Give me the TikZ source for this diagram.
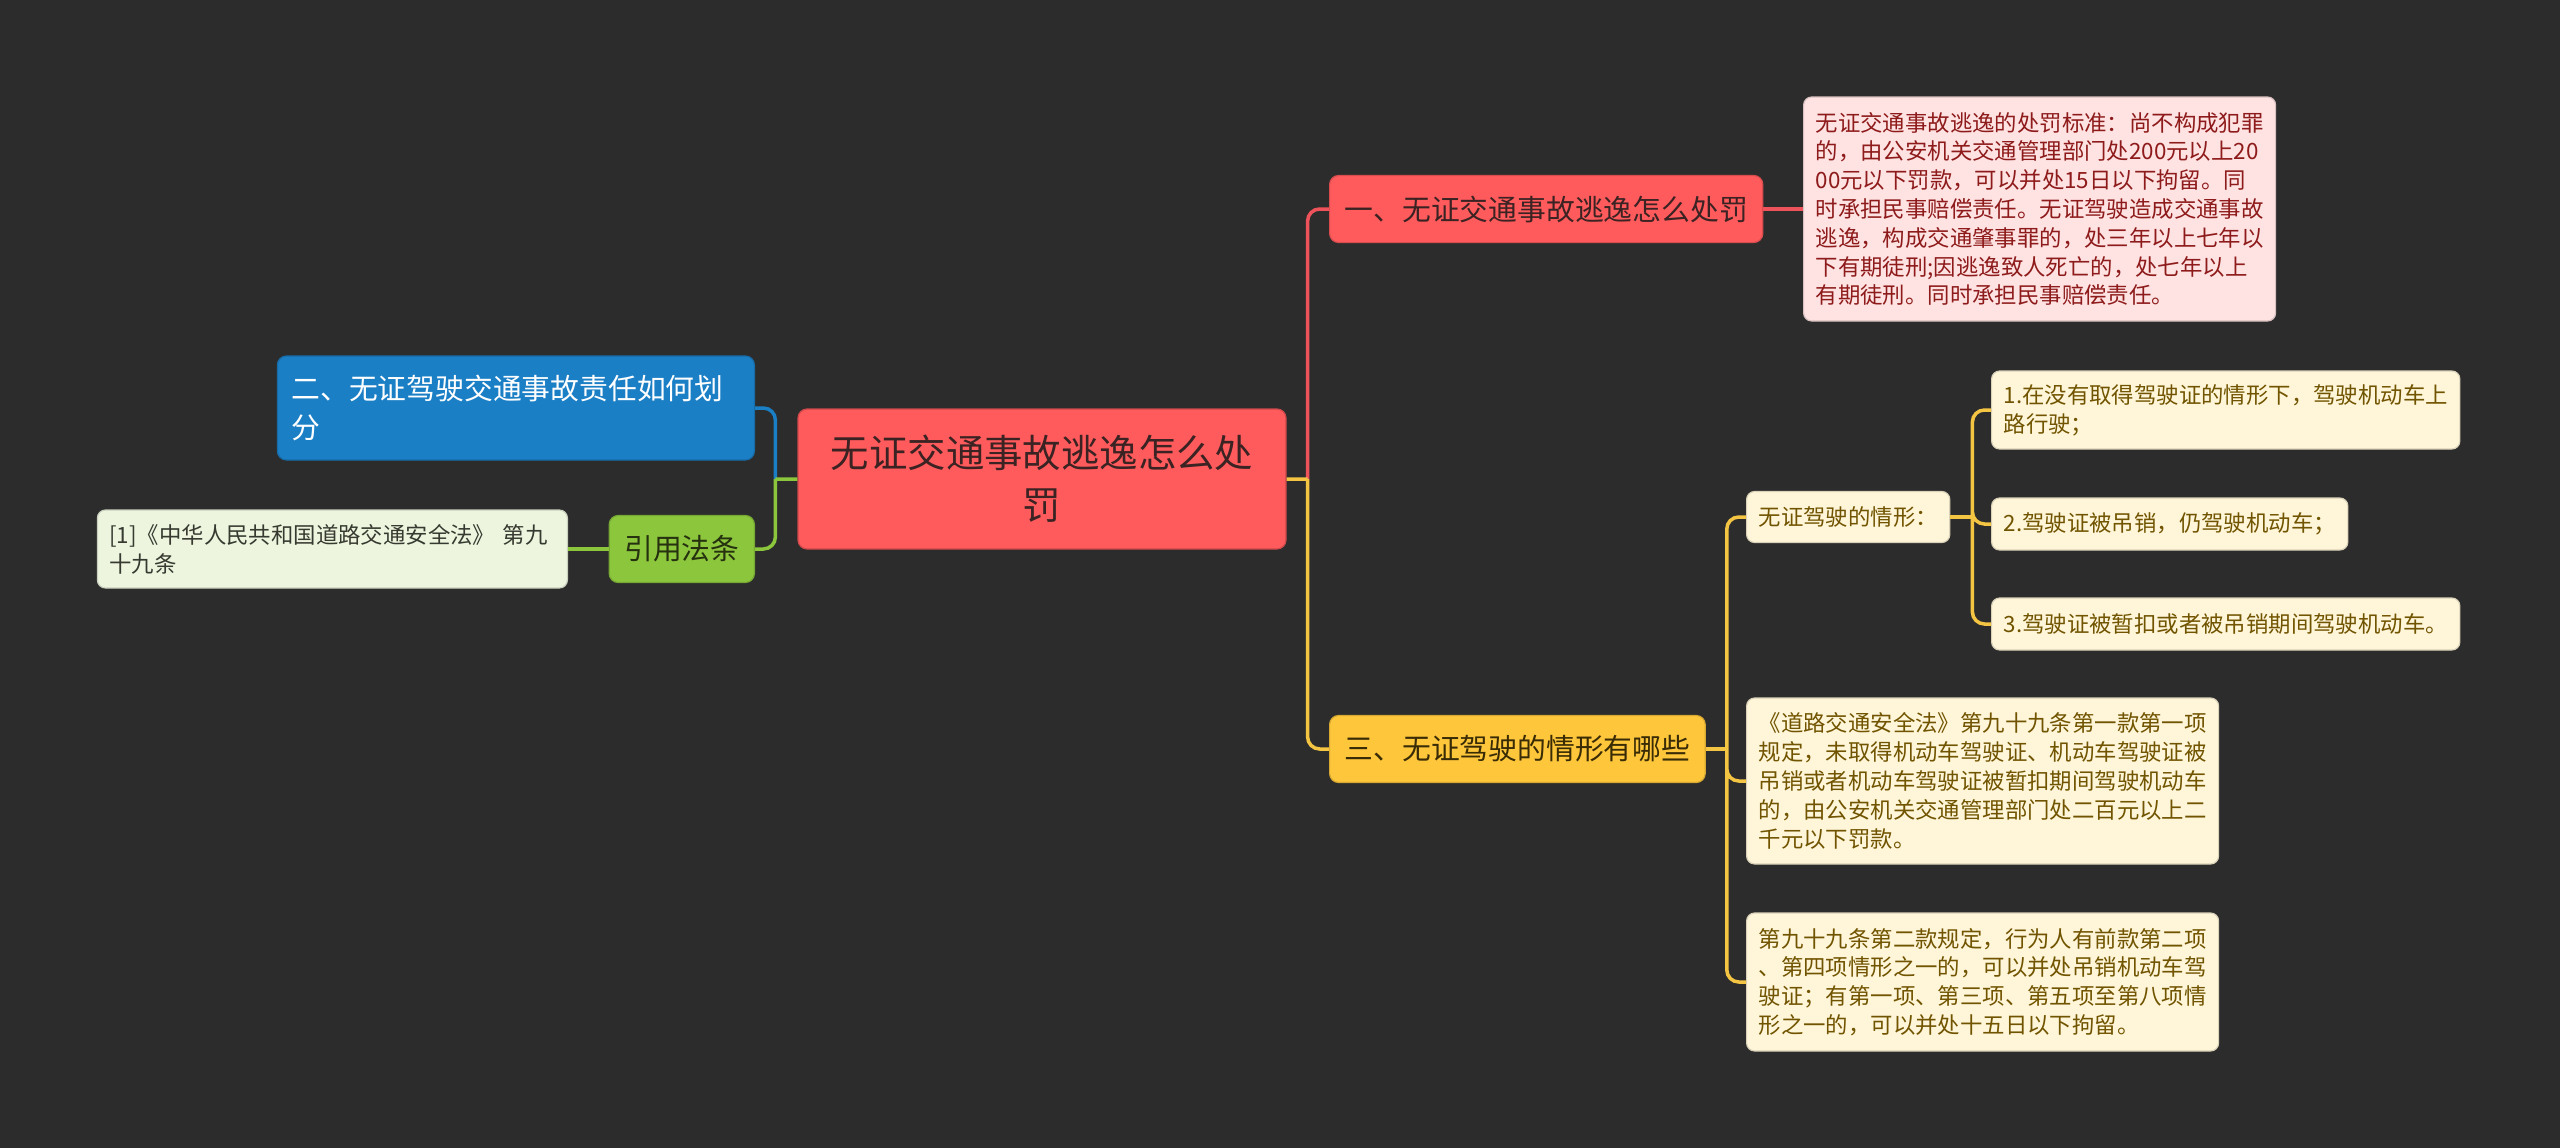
\documentclass[tikz,border=0pt]{standalone}
\usepackage{fontspec}
\setmainfont{Noto Sans CJK SC}
\usetikzlibrary{calc}

\definecolor{bgc}{HTML}{2C2C2C}
\definecolor{redfill}{HTML}{FF5A5C}
\definecolor{redline}{HTML}{EE525A}
\definecolor{redtext}{HTML}{3B2323}
\definecolor{pinkfill}{HTML}{FFE2E2}
\definecolor{pinktext}{HTML}{8E1B1B}
\definecolor{bluefill}{HTML}{1B7FC6}
\definecolor{greenfill}{HTML}{8BC63C}
\definecolor{greentext}{HTML}{26310F}
\definecolor{lgreenfill}{HTML}{EDF5DE}
\definecolor{lgreentext}{HTML}{363A30}
\definecolor{yelfill}{HTML}{FDC63B}
\definecolor{yelline}{HTML}{F4C443}
\definecolor{yeltext}{HTML}{382B05}
\definecolor{creamfill}{HTML}{FFF6D9}
\definecolor{creamtext}{HTML}{715400}

\begin{document}
\begin{tikzpicture}[x=1pt, y=-1pt,
    box/.style={rounded corners=9, inner ysep=0, line width=1.2},
    rootbox/.style={box, fill=redfill, draw=redfill!80!black, text=redtext, align=center,
      font=\fontsize{38.4}{52}\selectfont, minimum width=488, minimum height=140},
    mainbox/.style={box, inner xsep=15, minimum height=67, font=\fontsize{28.8}{39}\selectfont},
    redmain/.style={mainbox, fill=redfill, draw=redfill!85!black, text=redtext},
    bluemain/.style={mainbox, fill=bluefill, draw=bluefill!85!black, text=white},
    greenmain/.style={mainbox, fill=greenfill, draw=greenfill!85!black, text=greentext},
    yelmain/.style={mainbox, fill=yelfill, draw=yelfill!85!black, text=yeltext},
    leaf/.style={box, rounded corners=8, inner xsep=12, align=left, font=\fontsize{22.4}{28.8}\selectfont},
    pinkleaf/.style={leaf, fill=pinkfill, draw=pinkfill!85!black, text=pinktext},
    lgreenleaf/.style={leaf, fill=lgreenfill, draw=lgreenfill!85!black, text=lgreentext},
    creamleaf/.style={leaf, fill=creamfill, draw=creamfill!85!black, text=creamtext},
    link/.style={line width=3.5, rounded corners=12}]

  \fill[bgc] (0,0) rectangle (2560,1148);
  \useasboundingbox (0,0) rectangle (2560,1148);

  \node[rootbox] (root) at (1042,479) {无证交通事故逃逸怎么处\\罚};

  % right side
  \node[redmain, anchor=west] (pen) at (1329,209) {一、无证交通事故逃逸怎么处罚};
  \node[pinkleaf, anchor=west, minimum height=224] (penrule) at (1803,209)
    {无证交通事故逃逸的处罚标准：尚不构成犯罪\\的，由公安机关交通管理部门处200元以上20\\00元以下罚款，可以并处15日以下拘留。同\\时承担民事赔偿责任。无证驾驶造成交通事故\\逃逸，构成交通肇事罪的，处三年以上七年以\\下有期徒刑;因逃逸致人死亡的，处七年以上\\有期徒刑。同时承担民事赔偿责任。};

  \node[yelmain, anchor=west] (cases) at (1329,749) {三、无证驾驶的情形有哪些};
  \node[creamleaf, anchor=west, minimum height=51] (kinds) at (1746,517) {无证驾驶的情形：};
  \node[creamleaf, anchor=west, minimum height=78] (kind1) at (1991,410) {1.在没有取得驾驶证的情形下，驾驶机动车上\\路行驶；};
  \node[creamleaf, anchor=west, minimum height=52] (kind2) at (1991,524) {2.驾驶证被吊销，仍驾驶机动车；};
  \node[creamleaf, anchor=west, minimum height=52] (kind3) at (1991,624) {3.驾驶证被暂扣或者被吊销期间驾驶机动车。};
  \node[creamleaf, anchor=west, minimum height=166] (law1) at (1746,781)
    {《道路交通安全法》第九十九条第一款第一项\\规定，未取得机动车驾驶证、机动车驾驶证被\\吊销或者机动车驾驶证被暂扣期间驾驶机动车\\的，由公安机关交通管理部门处二百元以上二\\千元以下罚款。};
  \node[creamleaf, anchor=west, minimum height=138] (law2) at (1746,982)
    {第九十九条第二款规定，行为人有前款第二项\\、第四项情形之一的，可以并处吊销机动车驾\\驶证；有第一项、第三项、第五项至第八项情\\形之一的，可以并处十五日以下拘留。};

  % left side
  \node[bluemain, anchor=east, align=left, text width=449, inner xsep=14, minimum height=104] (duty) at (755,408)
    {二、无证驾驶交通事故责任如何划\\分};
  \node[greenmain, anchor=east] (cite) at (755,549) {引用法条};
  \node[lgreenleaf, anchor=east, text width=446, minimum height=78] (citelaw) at (568,549)
    {[1]《中华人民共和国道路交通安全法》 第九\\十九条};

  \coordinate (jr) at ($(root.east)+(21,0)$);
  \coordinate (jl) at ($(root.west)+(-22,0)$);
  \coordinate (jc) at ($(cases.east)+(21,0)$);
  \coordinate (jk) at ($(kinds.east)+(22,0)$);

  \draw[link, redline] (jr) |- (pen.west);
  \draw[link, redline] (pen.east) -- (penrule.west);
  \draw[link, yelline] (root.east) -- (jr) (jr) |- (cases.west);
  \draw[link, yelline] (cases.east) -- (jc);
  \draw[link, yelline] (jc) |- (kinds.west) (jc) |- (law1.west) (jc) |- (law2.west);
  \draw[link, yelline] (kinds.east) -- (jk);
  \draw[link, yelline] (jk) |- (kind1.west) (jk) |- (kind2.west) (jk) |- (kind3.west);

  \draw[link, bluefill] (jl) |- (duty.east);
  \draw[link, greenfill] (root.west) -- (jl) (jl) |- (cite.east);
  \draw[link, greenfill] (cite.west) -- (citelaw.east);
\end{tikzpicture}
\end{document}
